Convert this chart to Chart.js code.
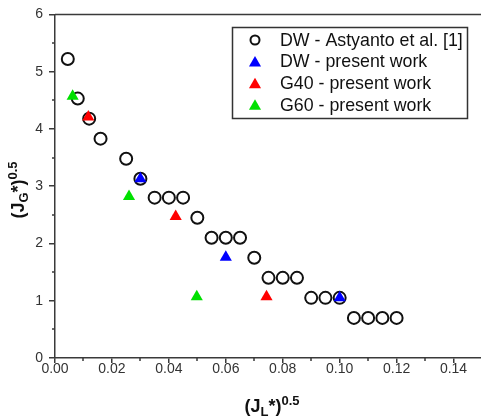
<!DOCTYPE html>
<html>
<head>
<meta charset="utf-8">
<script src="https://cdn.jsdelivr.net/npm/chart.js@4"></script>
<style>
  html, body { margin: 0; padding: 0; background: #fff; overflow: hidden; }
  #wrap { width: 490px; height: 418px; }
</style>
</head>
<body>
<div id="wrap"><canvas id="myChart" width="490" height="418"></canvas></div>
<script>
// values
const astyantoX = [0.0045, 0.008, 0.012, 0.016, 0.025, 0.030, 0.035, 0.040, 0.045, 0.050, 0.055, 0.060,
                   0.065, 0.070, 0.075, 0.080, 0.085, 0.090, 0.095, 0.100, 0.105, 0.110, 0.115, 0.120];
const astyantoY = [5.22, 4.53, 4.18, 3.83, 3.48, 3.13, 2.80, 2.80, 2.80, 2.45, 2.10, 2.10,
                   2.10, 1.75, 1.40, 1.40, 1.40, 1.05, 1.05, 1.05, 0.70, 0.70, 0.70, 0.70];
const dwX = [0.030, 0.060, 0.100];
const dwY = [3.13, 1.76, 1.05];
const g40X = [0.0117, 0.0424, 0.0743];
const g40Y = [4.21, 2.47, 1.07];
const g60X = [0.0062, 0.026, 0.0498];
const g60Y = [4.57, 2.82, 1.07];

const seriesLabels = ['DW - Astyanto et al. [1]', 'DW - present work', 'G40 - present work', 'G60 - present work'];
const xTitle = { main: '(J', sub: 'L', rest: '*)', sup: '0.5' };
const yTitle = { main: '(J', sub: 'G', rest: '*)', sup: '0.5' };

function pts(xs, ys) {
    return xs.map((x, i) => ({ x: x, y: ys[i] }));
}

const axisColor = '#3a3a3a';
const fontFam = '"Liberation Sans", Arial, sans-serif';

// minor ticks, top frame line, axis titles and boxed legend
const extras = {
    id: 'extras',
    afterDraw(chart) {
        const ctx = chart.ctx;
        const a = chart.chartArea;
        const xs = chart.scales.x, ys = chart.scales.y;
        ctx.save();
        ctx.strokeStyle = axisColor;
        ctx.lineWidth = 1.5;
        // minor ticks
        ctx.beginPath();
        for (let v = 0.01; v < 0.15; v += 0.02) {
            const px = Math.round(xs.getPixelForValue(v));
            ctx.moveTo(px, a.bottom);
            ctx.lineTo(px, a.bottom + 3);
        }
        for (let v = 0.5; v < 6; v += 1) {
            const py = Math.round(ys.getPixelForValue(v));
            ctx.moveTo(a.left, py);
            ctx.lineTo(a.left - 3, py);
        }
        // frame
        ctx.moveTo(a.left, a.top);
        ctx.lineTo(a.right, a.top);
        ctx.moveTo(a.right, a.top);
        ctx.lineTo(a.right, a.bottom);
        ctx.stroke();

        // axis titles
        function drawTitle(t, cx, cy, rot) {
            ctx.save();
            ctx.translate(cx, cy);
            ctx.rotate(rot);
            ctx.fillStyle = '#111';
            ctx.textBaseline = 'alphabetic';
            const big = 'bold 18px ' + fontFam, small = 'bold 13px ' + fontFam;
            ctx.font = big; const w1 = ctx.measureText(t.main).width;
            ctx.font = small; const w2 = ctx.measureText(t.sub).width;
            ctx.font = big; const w3 = ctx.measureText(t.rest).width;
            ctx.font = small; const w4 = ctx.measureText(t.sup).width;
            let x = -(w1 + w2 + w3 + w4) / 2;
            ctx.font = big; ctx.fillText(t.main, x, 0); x += w1;
            ctx.font = small; ctx.fillText(t.sub, x, 4); x += w2;
            ctx.font = big; ctx.fillText(t.rest, x, 0); x += w3;
            ctx.font = small; ctx.fillText(t.sup, x, -7);
            ctx.restore();
        }
        drawTitle(xTitle, 272, 412, 0);
        drawTitle(yTitle, 24, 190, -Math.PI / 2);

        // legend
        ctx.strokeStyle = '#333';
        ctx.lineWidth = 1.5;
        ctx.strokeRect(232.5, 27.5, 235, 91);
        ctx.font = '17.8px ' + fontFam;
        ctx.textBaseline = 'middle';
        ctx.fillStyle = '#111';
        chart.data.datasets.forEach((ds, i) => {
            const y = 40 + i * 21.6;
            ctx.save();
            ctx.fillStyle = ds.backgroundColor;
            ctx.strokeStyle = ds.borderColor;
            ctx.lineWidth = ds.borderWidth;
            Chart.helpers.drawPoint(ctx, {
                pointStyle: ds.pointStyle,
                radius: ds.pointStyle === 'circle' ? 4.5 : 7,
                borderWidth: ds.borderWidth,
                rotation: 0
            }, 255, ds.pointStyle === 'circle' ? y : y + 1.5);
            ctx.restore();
            ctx.fillText(ds.label, 280, y + 1);
        });
        ctx.restore();
    }
};

const ctx = document.getElementById('myChart').getContext('2d');
const myChart = new Chart(ctx, {
    type: 'scatter',
    data: {
        datasets: [{
            label: seriesLabels[0],
            data: pts(astyantoX, astyantoY),
            pointStyle: 'circle',
            pointRadius: 6,
            backgroundColor: 'rgba(255,255,255,0)',
            borderColor: '#111',
            borderWidth: 2,
            order: 4
        }, {
            label: seriesLabels[1],
            data: pts(dwX, dwY),
            pointStyle: 'triangle',
            pointRadius: 7,
            backgroundColor: '#0000ff',
            borderColor: '#0000ff',
            borderWidth: 0,
            order: 3
        }, {
            label: seriesLabels[2],
            data: pts(g40X, g40Y),
            pointStyle: 'triangle',
            pointRadius: 7,
            backgroundColor: '#ff0000',
            borderColor: '#ff0000',
            borderWidth: 0,
            order: 2
        }, {
            label: seriesLabels[3],
            data: pts(g60X, g60Y),
            pointStyle: 'triangle',
            pointRadius: 7,
            backgroundColor: '#00e000',
            borderColor: '#00e000',
            borderWidth: 0,
            order: 1
        }]
    },
    options: {
        responsive: false,
        animation: false,
        devicePixelRatio: 1,
        layout: { padding: { top: 13, right: 6, left: 0, bottom: 0 } },
        plugins: {
            legend: { display: false },
            tooltip: { enabled: false }
        },
        scales: {
            x: {
                type: 'linear',
                min: 0,
                max: 0.15,
                afterFit: function(scale) { scale.height = 60; },
                ticks: {
                    stepSize: 0.02,
                    includeBounds: false,
                    padding: -2,
                    color: '#333',
                    font: { family: fontFam, size: 14 },
                    callback: v => v.toFixed(2)
                },
                grid: { drawOnChartArea: false, tickLength: 5, color: axisColor, lineWidth: 1.5 },
                border: { color: axisColor, width: 1.5 }
            },
            y: {
                type: 'linear',
                min: 0,
                max: 6,
                afterFit: function(scale) { scale.width = 55; },
                ticks: {
                    stepSize: 1,
                    padding: 6,
                    color: '#333',
                    font: { family: fontFam, size: 14 }
                },
                grid: { drawOnChartArea: false, tickLength: 6, color: axisColor, lineWidth: 1.5 },
                border: { color: axisColor, width: 1.5 }
            }
        }
    },
    plugins: [extras]
});
</script>
</body>
</html>
